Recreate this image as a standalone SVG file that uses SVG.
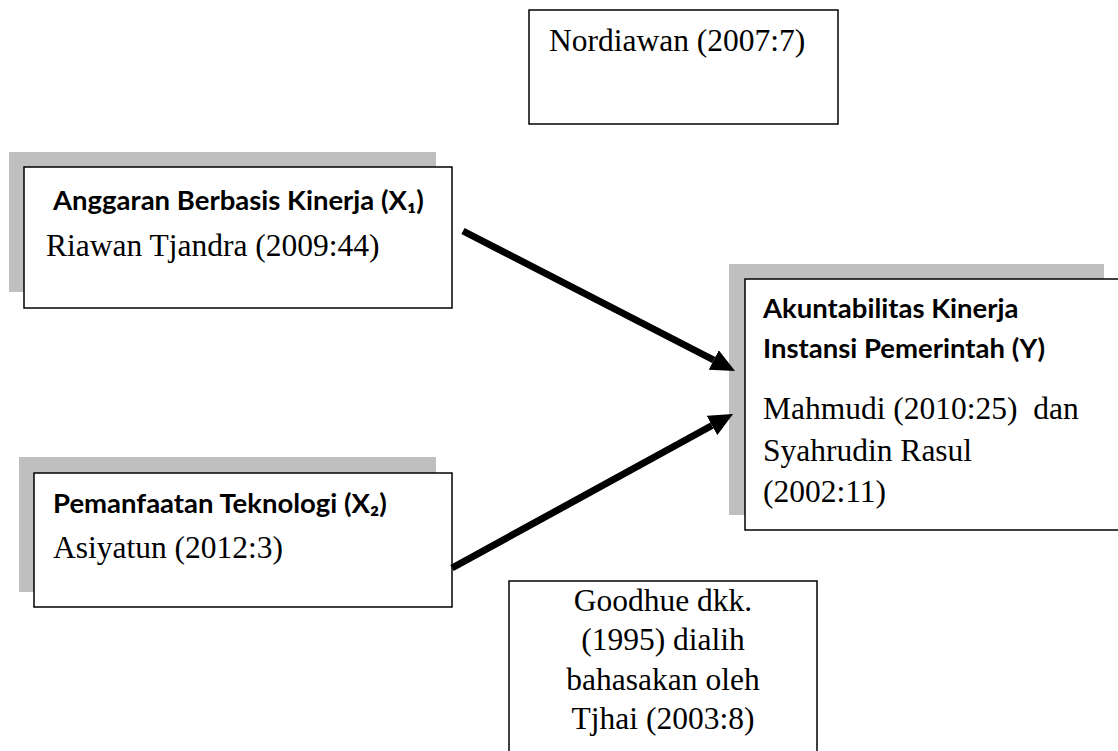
<svg xmlns="http://www.w3.org/2000/svg" width="1118" height="751" viewBox="0 0 1118 751">
<style>
.shadow{fill:#BFBFBF;stroke:none}
.box{fill:#FFFFFF;stroke:#000000;stroke-width:1.5}
.t{font-family:"Liberation Serif","Times New Roman",serif;font-size:31.5px;fill:#000}
.h{font-family:Lato,"Noto Sans",sans-serif;font-weight:bold;font-size:27.5px;fill:#000}
.conn{stroke:#000;stroke-width:7;fill:none}
</style>
<defs>
<marker id="ah" markerUnits="userSpaceOnUse" markerWidth="24" markerHeight="22" viewBox="0 0 24 22" refX="0" refY="11" orient="auto">
<path d="M0,0 L24,11 L0,22 Z" fill="#000"/>
</marker>
</defs>
<g id="nordiawan">
<rect class="box" x="529" y="10" width="309" height="114"/>
<text class="t" x="549" y="51">Nordiawan (2007:7)</text>
</g>
<g id="x1">
<rect class="shadow" x="9" y="152" width="427" height="140"/>
<rect class="box" x="24" y="167" width="428" height="141"/>
<text class="h" x="53" y="210">Anggaran Berbasis Kinerja (X₁)</text>
<text class="t" x="46" y="256">Riawan Tjandra (2009:44)</text>
</g>
<g id="x2">
<rect class="shadow" x="19" y="457" width="417" height="135"/>
<rect class="box" x="34" y="473" width="418" height="134"/>
<text class="h" x="53" y="513">Pemanfaatan Teknologi (X₂)</text>
<text class="t" x="53" y="558">Asiyatun (2012:3)</text>
</g>
<g id="y">
<rect class="shadow" x="729" y="264" width="375" height="251"/>
<rect class="box" x="745" y="279" width="380" height="251"/>
<text class="h" x="763" y="318">Akuntabilitas Kinerja</text>
<text class="h" x="763" y="358">Instansi Pemerintah (Y)</text>
<text class="t" x="763" y="419" xml:space="preserve">Mahmudi (2010:25)  dan</text>
<text class="t" x="763" y="461">Syahrudin Rasul</text>
<text class="t" x="763" y="502">(2002:11)</text>
</g>
<g id="goodhue">
<rect class="box" x="509" y="581" width="308" height="185"/>
<text class="t" x="663" y="611" text-anchor="middle">Goodhue dkk.</text>
<text class="t" x="663" y="650" text-anchor="middle">(1995) dialih</text>
<text class="t" x="663" y="690" text-anchor="middle">bahasakan oleh</text>
<text class="t" x="663" y="729" text-anchor="middle">Tjhai (2003:8)</text>
</g>
<g id="connectors">
<line class="conn" x1="463" y1="231" x2="713.7" y2="360" marker-end="url(#ah)"/>
<line class="conn" x1="452" y1="568" x2="712" y2="425.5" marker-end="url(#ah)"/>
</g>
</svg>
